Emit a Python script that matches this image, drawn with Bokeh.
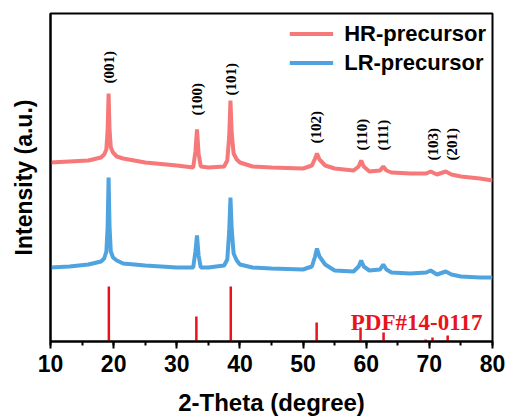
import math
from bokeh.plotting import figure
from bokeh.models import Range1d, SingleIntervalTicker, FixedTicker, Legend, LegendItem, ColumnDataSource
from bokeh.core.properties import value
from bokeh.embed import file_html
from bokeh.resources import INLINE

# ---- data ----
two_theta = [10, 13, 16, 18, 18.5, 18.85, 19.05, 19.2, 19.35, 19.55, 19.9, 20.5, 21.5, 25, 30,
             32.6, 32.95, 33.2, 33.45, 33.8, 35, 37.5, 38.0, 38.3, 38.5, 38.7, 39.0, 39.5, 40,
             42, 45, 50, 51.4, 51.9, 52.2, 52.6, 53.5, 55, 58, 58.8, 59.2, 59.6, 60.5, 62.2,
             62.7, 63.2, 64, 67, 69.5, 70.2, 71.2, 72.6, 73.5, 75, 78, 80]
hr_intensity = [179, 180, 181, 184, 187, 192, 212, 248, 212, 194, 189, 185, 183, 179, 176,
                174, 190, 212, 188, 175, 174, 175, 181, 205, 241, 208, 188, 182, 179,
                175, 174, 173, 176, 183, 188, 182, 176, 173, 171, 175, 181, 175, 170, 171,
                175, 171, 169, 168, 168, 170, 167, 170, 167, 165, 163, 161]
lr_intensity = [74, 75, 77, 80, 83, 90, 115, 164, 115, 90, 84, 81, 78, 76, 74,
                74, 90, 106, 86, 74, 74, 76, 82, 110, 144, 112, 88, 81, 77,
                74, 73, 72, 75, 85, 93, 85, 77, 71, 70, 75, 81, 75, 71, 72,
                77, 72, 69, 68, 69, 71, 67, 70, 67, 65, 64, 64]

pdf_positions = [19.24, 33.1, 38.55, 52.15, 59.1, 62.75, 69.4, 70.5, 72.9]
pdf_heights = [55, 25, 55, 19, 14, 9, 2, 4, 6]

miller_labels = ["(001)", "(100)", "(101)", "(102)", "(110)", "(111)", "(103)", "(201)"]
miller_x = [19.2, 33.2, 38.6, 52.0, 59.3, 62.7, 70.6, 73.6]
miller_y = [258, 226, 246, 198, 191, 191, 181, 181]

x_ticks_major = 10
series_names = ["HR-precursor", "LR-precursor"]
pdf_name = "PDF#14-0117"

HR_COLOR = "#F67878"
LR_COLOR = "#4FA3DE"
PDF_COLOR = "#E8141B"
SANS = "Liberation Sans"
SERIF = "Liberation Serif"

p = figure(width=509, height=420, x_range=Range1d(10, 80), y_range=Range1d(0, 328),
           output_backend="svg", toolbar_location=None,
           min_border_left=50, min_border_right=17, min_border_top=13, min_border_bottom=79)
p.xgrid.visible = False
p.ygrid.visible = False
p.outline_line_color = "black"
p.outline_line_width = 2
p.outline_line_alpha = 1

# curves
r_hr = p.line(two_theta, hr_intensity, line_color=HR_COLOR, line_width=4)
r_lr = p.line(two_theta, lr_intensity, line_color=LR_COLOR, line_width=4)

# reference pattern
p.segment(x0=pdf_positions, y0=[0] * len(pdf_positions), x1=pdf_positions, y1=pdf_heights,
          line_color=PDF_COLOR, line_width=2.5)
p.text(x=[78.4], y=[19], text=[pdf_name], text_color=PDF_COLOR,
       text_font=value(SERIF), text_font_style="bold", text_font_size="23px",
       text_align="right", text_baseline="alphabetic")

# Miller indices
src = ColumnDataSource(dict(x=miller_x, y=miller_y, t=miller_labels))
p.text(x="x", y="y", text="t", source=src, angle=math.pi / 2,
       text_font=value(SERIF), text_font_style="bold", text_font_size="15px",
       text_align="left", text_baseline="middle", text_color="black")

# x axis
xa = p.xaxis[0]
xa.ticker = SingleIntervalTicker(interval=x_ticks_major, num_minor_ticks=2)
xa.axis_label = "2-Theta (degree)"
xa.axis_label_text_font = SANS
xa.axis_label_text_font_style = "bold"
xa.axis_label_text_font_size = "24px"
xa.axis_label_text_color = "black"
xa.axis_label_standoff = 14
xa.major_label_text_font = SANS
xa.major_label_text_font_style = "bold"
xa.major_label_text_font_size = "23px"
xa.major_label_text_color = "black"
xa.major_label_standoff = 6
xa.axis_line_width = 2
xa.major_tick_line_width = 2
xa.minor_tick_line_width = 2
xa.major_tick_out = 7
xa.major_tick_in = 0
xa.minor_tick_out = 4
xa.minor_tick_in = 0

# y axis
ya = p.yaxis[0]
ya.ticker = FixedTicker(ticks=[])
ya.axis_label = "Intensity (a.u.)"
ya.axis_label_text_font = SANS
ya.axis_label_text_font_style = "bold"
ya.axis_label_text_font_size = "23px"
ya.axis_label_text_color = "black"
ya.axis_label_standoff = 14
ya.axis_line_width = 2
ya.major_tick_out = 0
ya.minor_tick_out = 0

legend = Legend(items=[LegendItem(label=series_names[0], renderers=[r_hr]),
                       LegendItem(label=series_names[1], renderers=[r_lr])],
                location="top_right")
legend.border_line_color = None
legend.background_fill_alpha = 0
legend.label_text_font = SANS
legend.label_text_font_style = "bold"
legend.label_text_font_size = "22px"
legend.label_text_color = "black"
legend.glyph_width = 44
legend.glyph_height = 29
legend.label_height = 29
legend.label_standoff = 11
legend.spacing = 0
legend.padding = 4
legend.margin = 6
p.add_layout(legend)

open("out.html", "w").write(file_html(p, INLINE))
